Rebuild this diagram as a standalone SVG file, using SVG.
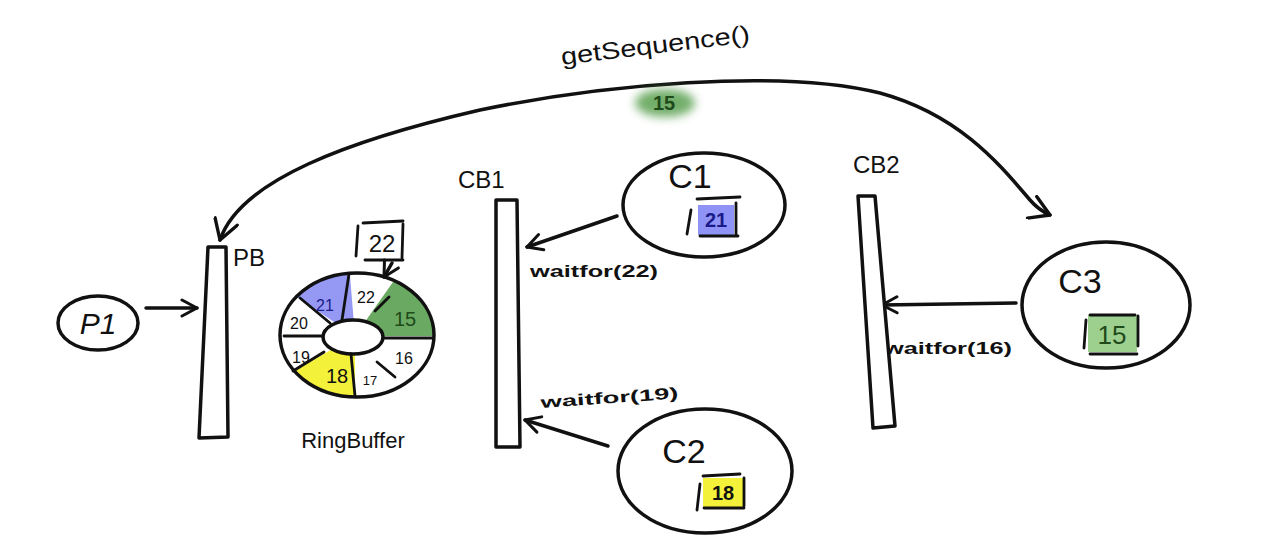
<svg xmlns="http://www.w3.org/2000/svg" width="1270" height="552" viewBox="0 0 1270 552">
<style>
  .ln{stroke:#111;stroke-width:3.5;fill:none;stroke-linecap:round;stroke-linejoin:round}
  .thin{stroke:#111;stroke-width:2.8;fill:none;stroke-linecap:round}
  .bar{stroke:#111;stroke-width:3.5;fill:#fff;stroke-linejoin:round}
  .t{font-family:"Liberation Sans","DejaVu Sans",sans-serif;fill:#111}
  .lbl{font-size:24px}
  .big{font-size:34px}
  .small{font-size:16px;font-weight:bold}
  .num{font-size:16px}
</style>
<defs>
  <marker id="arr" viewBox="0 0 20 20" refX="18" refY="10" markerWidth="20" markerHeight="20" markerUnits="userSpaceOnUse" orient="auto">
    <path d="M3,2 L18,10 L3,18" fill="none" stroke="#111" stroke-width="3" stroke-linecap="round" stroke-linejoin="round"/>
  </marker>
  <marker id="arrS" viewBox="0 0 20 20" refX="18" refY="10" markerWidth="26" markerHeight="26" markerUnits="userSpaceOnUse" orient="auto-start-reverse">
    <path d="M3,1 L18,10 L3,19" fill="none" stroke="#111" stroke-width="2.6" stroke-linecap="round" stroke-linejoin="round"/>
  </marker>
  <filter id="blur" x="-50%" y="-50%" width="200%" height="200%">
    <feGaussianBlur stdDeviation="5"/>
  </filter>
  <clipPath id="ring">
    <path clip-rule="evenodd" d="M280,335 A77,62 0 1,0 434,335 A77,62 0 1,0 280,335 Z M323,337 A30,17 0 1,1 383,337 A30,17 0 1,1 323,337 Z"/>
  </clipPath>
</defs>
<rect width="1270" height="552" fill="#fff"/>

<g id="connectors">
  <path id="getSequence" class="ln" d="M220,240 C240,180 350,140 480,110 C600,85 780,68 880,93 C960,115 1000,165 1030,200 C1036,207 1043,212 1050,215" marker-start="url(#arrS)" marker-end="url(#arrS)"/>
  <line class="ln" x1="146" y1="308" x2="197" y2="308" marker-end="url(#arr)"/>
  <line class="ln" x1="617" y1="216" x2="527" y2="247" marker-end="url(#arr)"/>
  <line class="ln" x1="608" y1="446" x2="525" y2="420" marker-end="url(#arr)"/>
  <line class="ln" x1="1016" y1="303" x2="882" y2="305" marker-end="url(#arr)"/>
  <line class="ln" x1="392" y1="263" x2="384" y2="277" marker-end="url(#arr)"/>
  <text class="t small" x="530" y="277" textLength="128" lengthAdjust="spacingAndGlyphs">waitfor(22)</text>
  <text class="t small" x="541" y="408" transform="rotate(-4 541 408)" textLength="138" lengthAdjust="spacingAndGlyphs">waitfor(19)</text>
  <text class="t small" x="884" y="354" textLength="128" lengthAdjust="spacingAndGlyphs">waitfor(16)</text>
  <text class="t" font-size="24" x="562" y="65" transform="rotate(-7 562 65)" textLength="190" lengthAdjust="spacingAndGlyphs">getSequence()</text>
  <ellipse cx="665" cy="103" rx="30" ry="14" fill="#4f9a45" opacity="0.8" filter="url(#blur)"/>
  <text class="t" font-size="20" font-weight="bold" x="664" y="110" text-anchor="middle" style="fill:#1f4a1a">15</text>
</g>

<g id="P1">
  <ellipse class="ln" cx="98" cy="323" rx="40" ry="27"/>
  <text class="t" font-size="30" font-style="italic" x="98" y="334" text-anchor="middle">P1</text>
</g>

<g id="PB">
  <polygon class="bar" points="208,247 226,247 228,437 199,438"/>
  <text class="t lbl" font-size="22" x="233" y="266">PB</text>
</g>

<g id="RingBuffer">
  <g clip-path="url(#ring)">
    <polygon points="355,336 255,269 295,232 345,216" fill="#7b7ff0" opacity="0.8"/>
    <polygon points="355,336 424,238 462,281 475,336" fill="#4f9a45" opacity="0.85"/>
    <polygon points="355,336 355,456 295,440 251,396" fill="#f4f13a"/>
  </g>
  <ellipse class="ln" cx="357" cy="335" rx="77" ry="62"/>
  <ellipse class="ln" cx="353" cy="337" rx="30" ry="17"/>
  <line class="thin" x1="342" y1="320" x2="349" y2="274"/>
  <line class="thin" x1="375" y1="311" x2="389" y2="297"/>
  <line class="thin" x1="383" y1="338" x2="433" y2="338"/>
  <line class="thin" x1="377" y1="362" x2="395" y2="377"/>
  <line class="thin" x1="351" y1="354" x2="355" y2="396"/>
  <line class="thin" x1="324" y1="352" x2="293" y2="371"/>
  <line class="thin" x1="284" y1="336" x2="323" y2="336"/>
  <line class="thin" x1="300" y1="298" x2="330" y2="323"/>
  <text class="t num" x="325" y="311" text-anchor="middle" style="fill:#1a1a8a">21</text>
  <text class="t num" x="366" y="303" text-anchor="middle">22</text>
  <text class="t" font-size="20" x="405" y="326" text-anchor="middle" style="fill:#1f4a1a">15</text>
  <text class="t num" x="404" y="364" text-anchor="middle">16</text>
  <text class="t" font-size="13" x="370" y="385" text-anchor="middle">17</text>
  <text class="t" font-size="20" x="337" y="383" text-anchor="middle">18</text>
  <text class="t num" x="301" y="363" text-anchor="middle">19</text>
  <text class="t num" x="299" y="329" text-anchor="middle">20</text>
  <line class="thin" x1="358" y1="226" x2="356" y2="256"/>
  <line class="thin" x1="363" y1="223" x2="403" y2="221"/>
  <line class="thin" x1="403" y1="224" x2="402" y2="258"/>
  <line class="thin" x1="365" y1="260" x2="403" y2="260"/>
  <text class="t" font-size="24" x="382" y="252" text-anchor="middle">22</text>
  <text class="t" font-size="22" x="353" y="448" text-anchor="middle">RingBuffer</text>
</g>

<g id="CB1">
  <polygon class="bar" points="496,200 517,200 520,447 496,447"/>
  <text class="t lbl" x="458" y="188">CB1</text>
</g>

<g id="CB2">
  <polygon class="bar" points="858,196 875,196 895,426 873,428"/>
  <text class="t lbl" x="853" y="173">CB2</text>
</g>

<g id="C1">
  <ellipse class="ln" cx="704" cy="205" rx="81" ry="52"/>
  <text class="t big" x="690" y="188" text-anchor="middle">C1</text>
  <rect x="698" y="205" width="36" height="30" fill="#8f93f5"/>
  <line class="thin" x1="691" y1="210" x2="687" y2="234"/>
  <line class="thin" x1="697" y1="199" x2="740" y2="197"/>
  <line class="thin" x1="736" y1="203" x2="736" y2="235"/>
  <line class="thin" x1="700" y1="236" x2="738" y2="236"/>
  <text class="t" font-size="20" font-weight="bold" x="716" y="227" text-anchor="middle" style="fill:#1a1a8a">21</text>
</g>

<g id="C2">
  <ellipse class="ln" cx="705" cy="471" rx="87" ry="62"/>
  <text class="t big" x="684" y="463" text-anchor="middle">C2</text>
  <rect x="703" y="478" width="40" height="29" fill="#f4f13a"/>
  <line class="thin" x1="700" y1="484" x2="697" y2="510"/>
  <line class="thin" x1="703" y1="476" x2="740" y2="474"/>
  <line class="thin" x1="744" y1="478" x2="744" y2="506"/>
  <line class="thin" x1="704" y1="508" x2="744" y2="508"/>
  <text class="t" font-size="20" font-weight="bold" x="723" y="500" text-anchor="middle">18</text>
</g>

<g id="C3">
  <ellipse class="ln" cx="1106" cy="305" rx="84" ry="63"/>
  <text class="t big" x="1080" y="293" text-anchor="middle" font-size="36">C3</text>
  <rect x="1088" y="315" width="49" height="37" fill="#9dcf8f"/>
  <line class="thin" x1="1086" y1="320" x2="1084" y2="348"/>
  <line class="thin" x1="1090" y1="315" x2="1135" y2="315"/>
  <line class="thin" x1="1138" y1="316" x2="1138" y2="346"/>
  <line class="thin" x1="1090" y1="354" x2="1137" y2="354"/>
  <text class="t" font-size="26" x="1112" y="344" text-anchor="middle" style="fill:#1f4a1a">15</text>
</g>
</svg>
